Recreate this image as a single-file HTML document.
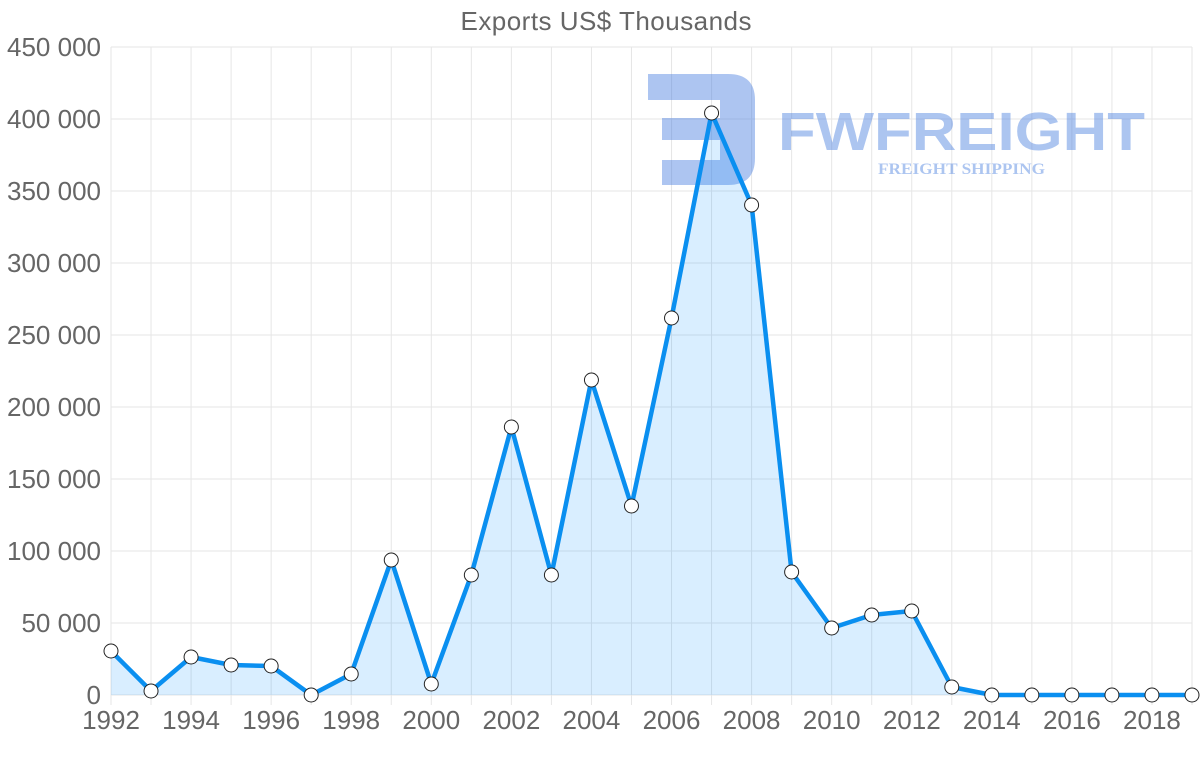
<!DOCTYPE html>
<html><head><meta charset="utf-8"><style>
html,body{margin:0;padding:0;background:#fff;}
svg{display:block;font-family:"Liberation Sans",sans-serif;}
</style></head><body>
<svg width="1200" height="763" viewBox="0 0 1200 763" xmlns="http://www.w3.org/2000/svg">
<text x="606" y="30" text-anchor="middle" font-size="26" fill="#666" textLength="291">Exports US$ Thousands</text>
<g stroke="#e6e6e6" stroke-width="1">
<line x1="111" y1="47" x2="1192" y2="47"/><line x1="111" y1="119" x2="1192" y2="119"/><line x1="111" y1="191" x2="1192" y2="191"/><line x1="111" y1="263" x2="1192" y2="263"/><line x1="111" y1="335" x2="1192" y2="335"/><line x1="111" y1="407" x2="1192" y2="407"/><line x1="111" y1="479" x2="1192" y2="479"/><line x1="111" y1="551" x2="1192" y2="551"/><line x1="111" y1="623" x2="1192" y2="623"/><line x1="111" y1="695" x2="1192" y2="695"/>
</g>
<g id="vg" stroke="#e6e6e6" stroke-width="1"></g>
<g font-size="26" fill="#666" text-anchor="end">
<text x="101" y="56">450 000</text><text x="101" y="128">400 000</text><text x="101" y="200">350 000</text><text x="101" y="272">300 000</text><text x="101" y="344">250 000</text><text x="101" y="416">200 000</text><text x="101" y="488">150 000</text><text x="101" y="560">100 000</text><text x="101" y="632">50 000</text><text x="101" y="704">0</text>
</g>
<g id="xl" font-size="26" fill="#666" text-anchor="middle"></g>
<g opacity="0.45">
<path d="M648 74 H728 Q755 74 755 100 V158 Q755 185 728 185 H662 V160 H720 V140 H662 V118 H720 V100 H648 Z" fill="#4a7fe0"/>
<text x="778" y="150" font-size="54" font-weight="bold" fill="#4a7fe0" textLength="367" lengthAdjust="spacingAndGlyphs">FWFREIGHT</text>
<text x="878" y="174" font-size="16" font-weight="bold" fill="#4a7fe0" textLength="167" lengthAdjust="spacingAndGlyphs" font-family="Liberation Serif,serif">FREIGHT SHIPPING</text>
</g>
<path id="area" fill="rgba(0,140,255,0.15)" stroke="none"/>
<polyline id="ln" fill="none" stroke="#0a8ff0" stroke-width="4.5" stroke-linejoin="round"/>
<g id="pts"></g>
<script>
var ys=[651,691,657,665,666,695,674,560,684,575,427,575,380,506,318,113,205,572,628,615,611,687,695,695,695,695,695,695];
var ns="http://www.w3.org/2000/svg",st=(1192-111)/27,p=[];
for(var i=0;i<28;i++){var x=111+i*st;p.push(x.toFixed(1)+","+ys[i]);
var l=document.createElementNS(ns,"line");l.setAttribute("x1",x);l.setAttribute("x2",x);l.setAttribute("y1",47);l.setAttribute("y2",705);document.getElementById("vg").appendChild(l);
if(i%2==0&&i<27){var t=document.createElementNS(ns,"text");t.setAttribute("x",x);t.setAttribute("y",729);t.textContent=1992+i;document.getElementById("xl").appendChild(t);}
var c=document.createElementNS(ns,"circle");c.setAttribute("cx",x);c.setAttribute("cy",ys[i]);c.setAttribute("r",7);c.setAttribute("fill","#fff");c.setAttribute("stroke","#222");c.setAttribute("stroke-width","1");document.getElementById("pts").appendChild(c);}
document.getElementById("ln").setAttribute("points",p.join(" "));
document.getElementById("area").setAttribute("d","M111,695 L"+p.join(" L")+" L1192,695 Z");
</script>
</svg>
</body></html>
